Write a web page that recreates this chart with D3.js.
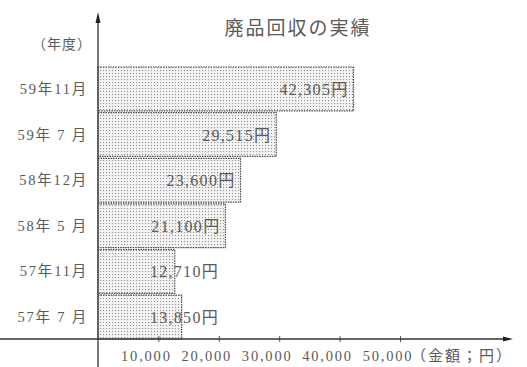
<!DOCTYPE html>
<meta charset="utf-8">
<style>
html, body {
  margin: 0;
  padding: 0;
  background: #fff;
}
svg text {
  font-family: "Liberation Serif", "Noto Sans CJK JP", serif;
  fill: #5a5a5a;
}
</style>
<div id="chart"></div>
<script src="https://cdn.jsdelivr.net/npm/d3@7"></script>
<script>

// data
var periods = ["59年11月", "59年 7 月", "58年12月", "58年 5 月", "57年11月", "57年 7 月"];
var amounts = [42305, 29515, 23600, 21100, 12710, 13850];
var tickValues = [10000, 20000, 30000, 40000, 50000];
var title = "廃品回収の実績";

var width = 527, height = 367;

var svg = d3.select("#chart").append("svg")
    .attr("width", width)
    .attr("height", height);

// dotted fill for the bars
var pat = svg.append("defs").append("pattern")
    .attr("id", "dots")
    .attr("width", 3)
    .attr("height", 3)
    .attr("patternUnits", "userSpaceOnUse");
pat.append("rect").attr("width", 3).attr("height", 3).attr("fill", "#f4f4f4");
pat.append("rect").attr("x", 1).attr("y", 1).attr("width", 1.1).attr("height", 1.1).attr("fill", "#949494");

var x = d3.scaleLinear()
    .domain([0, 50000])
    .range([98, 400]);

var y = d3.scaleBand()
    .domain(periods)
    .range([67, 339])
    .paddingInner(0.04);

var axisY = 339;

// bars
svg.selectAll(".bar")
    .data(periods)
  .enter().append("rect")
    .attr("class", "bar")
    .attr("x", x(0))
    .attr("y", function(d) { return y(d); })
    .attr("width", function(d, i) { return x(amounts[i]) - x(0); })
    .attr("height", y.bandwidth())
    .attr("fill", "url(#dots)")
    .attr("stroke", "#4a4a4a")
    .attr("stroke-width", 1.2)
    .attr("stroke-dasharray", "1.5,1");

// value labels inside the bars
svg.selectAll(".val")
    .data(periods)
  .enter().append("text")
    .attr("class", "val")
    .attr("x", function(d, i) { return Math.max(x(amounts[i]) - 5, x(0) + 121); })
    .attr("y", function(d) { return y(d) + y.bandwidth() / 2 + 6; })
    .attr("text-anchor", "end")
    .style("font-size", "16px")
    .style("letter-spacing", "1.3px")
    .text(function(d, i) { return d3.format(",")(amounts[i]) + "円"; });

// category labels
svg.selectAll(".cat")
    .data(periods)
  .enter().append("text")
    .attr("class", "cat")
    .attr("x", 88)
    .attr("y", function(d) { return y(d) + y.bandwidth() / 2 + 5; })
    .attr("text-anchor", "end")
    .style("font-size", "14.5px")
    .style("letter-spacing", "1.8px")
    .text(function(d) { return d; });

// x axis with ticks crossing the line
var xAxis = d3.axisBottom(x)
    .tickValues(tickValues)
    .tickSize(3)
    .tickFormat("");
var gx = svg.append("g")
    .attr("transform", "translate(0," + axisY + ")")
    .call(xAxis);
gx.select(".domain").remove();
gx.selectAll(".tick line").attr("y1", -3).attr("stroke", "#555");

svg.selectAll(".xlab")
    .data(tickValues)
  .enter().append("text")
    .attr("class", "xlab")
    .attr("x", function(d) { return x(d) - 12; })
    .attr("y", 361)
    .attr("text-anchor", "middle")
    .style("font-size", "14.5px")
    .style("letter-spacing", "1.8px")
    .text(function(d) { return d3.format(",")(d); });

svg.append("text")
    .attr("x", 411)
    .attr("y", 361)
    .style("font-size", "15px")
    .style("letter-spacing", "2px")
    .text("（金額；円）");

// axis lines with arrow heads
svg.append("line")
    .attr("x1", 0).attr("x2", 506)
    .attr("y1", axisY).attr("y2", axisY)
    .attr("stroke", "#333").attr("stroke-width", 1.3);
svg.append("path")
    .attr("d", "M513," + axisY + "L503," + (axisY - 2.5) + "L503," + (axisY + 2.5) + "Z")
    .attr("fill", "#222");

svg.append("line")
    .attr("x1", x(0)).attr("x2", x(0))
    .attr("y1", 18).attr("y2", height)
    .attr("stroke", "#333").attr("stroke-width", 1.3);
svg.append("path")
    .attr("d", "M" + x(0) + ",12L" + (x(0) - 2.5) + ",23L" + (x(0) + 2.5) + ",23Z")
    .attr("fill", "#222");

// titles
svg.append("text")
    .attr("x", 298)
    .attr("y", 35)
    .attr("text-anchor", "middle")
    .style("font-size", "19px")
    .style("letter-spacing", "2px")
    .text(title);

svg.append("text")
    .attr("x", 62)
    .attr("y", 49)
    .attr("text-anchor", "middle")
    .style("font-size", "14px")
    .style("letter-spacing", "1px")
    .text("（年度）");

</script>
